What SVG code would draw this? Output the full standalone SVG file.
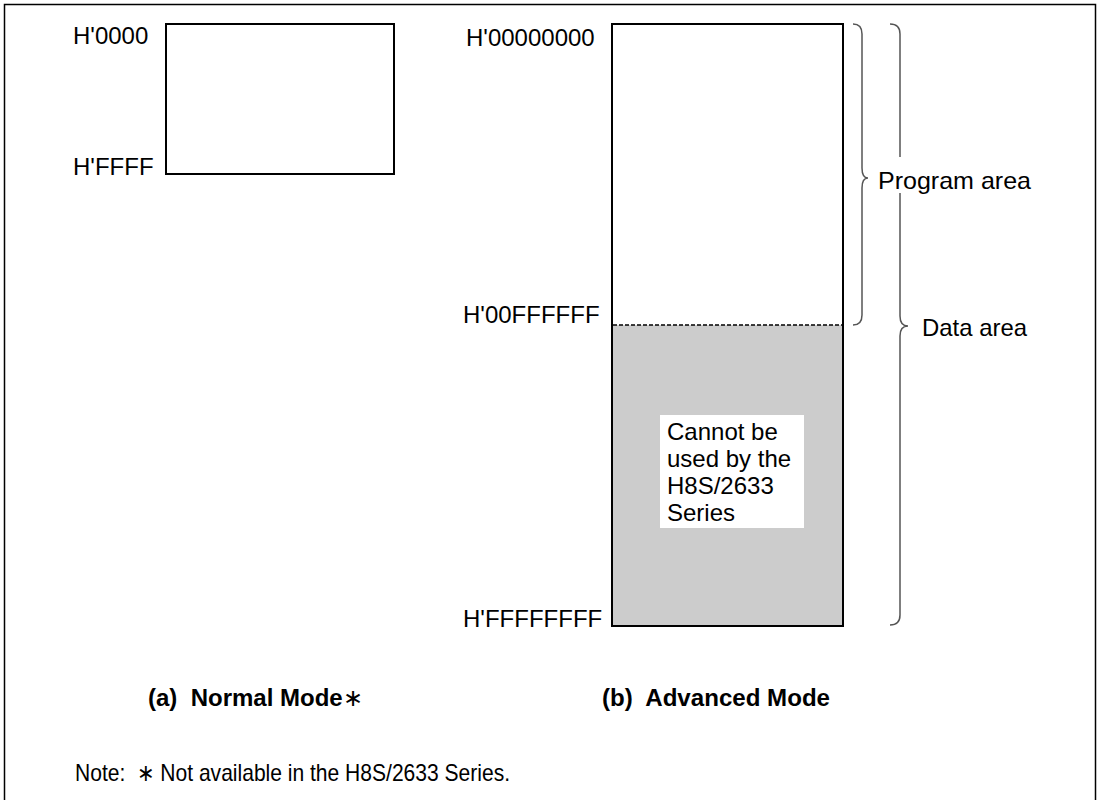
<svg xmlns="http://www.w3.org/2000/svg" width="1099" height="800" viewBox="0 0 1099 800">
<style>
text{font-family:"Liberation Sans",Arial,sans-serif;font-size:24px;fill:#000}
.b{font-weight:bold}
.box{fill:#fff;stroke:#000;stroke-width:2}
.brace{fill:none;stroke:#555;stroke-width:1.5}
</style>
<rect x="0" y="0" width="1099" height="800" fill="#fff"/>
<rect x="4.5" y="4.5" width="1091" height="800" fill="none" stroke="#000" stroke-width="1.5"/>
<g id="normal">
<rect class="box" x="166" y="24" width="228" height="150"/>
<text x="73" y="44">H'0000</text>
<text x="73" y="175">H'FFFF</text>
</g>
<g id="advanced">
<rect x="612" y="24" width="231" height="602" fill="#fff"/>
<rect x="612" y="325" width="231" height="301" fill="#ccc"/>
<rect x="612" y="24" width="231" height="602" fill="none" stroke="#000" stroke-width="2"/>
<line x1="613" y1="325" x2="842" y2="325" stroke="#000" stroke-width="1.5" stroke-dasharray="4,2"/>
<text x="466" y="46">H'00000000</text>
<text x="463" y="323">H'00FFFFFF</text>
<text x="463" y="627">H'FFFFFFFF</text>
</g>
<g id="note-box">
<rect x="660" y="415" width="144" height="113" fill="#fff"/>
<text x="667" y="440">Cannot be</text>
<text x="667" y="467">used by the</text>
<text x="667" y="494">H8S/2633</text>
<text x="667" y="521">Series</text>
</g>
<g id="connectors">
<path class="brace" d="M853,24 Q862,24 862,34 L862,168 Q862,178 868,178 Q862,178 862,188 L862,315 Q862,325 853,325"/>
<path class="brace" d="M890,24 Q900,24 900,34 L900,316 Q900,326 908,326 Q900,326 900,336 L900,615 Q900,625 890,625"/>
</g>
<g id="program-area">
<rect x="874" y="157" width="165" height="36" fill="#fff"/>
<text x="878" y="189" textLength="153" lengthAdjust="spacingAndGlyphs">Program area</text>
</g>
<g id="data-area">
<text x="922" y="336" textLength="105" lengthAdjust="spacingAndGlyphs">Data area</text>
</g>
<g id="captions">
<text class="b" x="148" y="706" xml:space="preserve">(a)  Normal Mode<tspan font-weight="normal">∗</tspan></text>
<text class="b" x="602" y="706" xml:space="preserve" textLength="228" lengthAdjust="spacingAndGlyphs">(b)  Advanced Mode</text>
<text x="75" y="781" font-size="20" xml:space="preserve" textLength="435" lengthAdjust="spacingAndGlyphs">Note:  ∗ Not available in the H8S/2633 Series.</text>
</g>
</svg>
